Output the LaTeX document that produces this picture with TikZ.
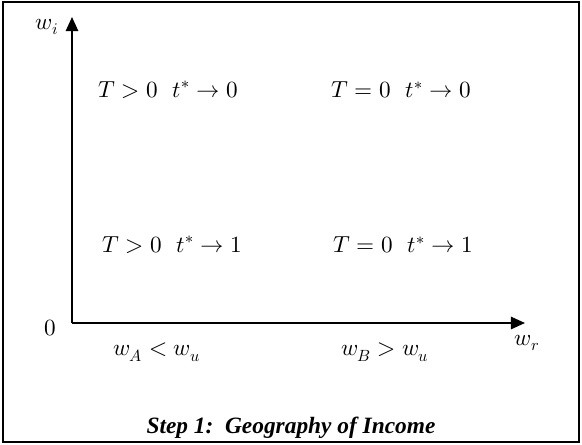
\documentclass[tikz,border=0pt]{standalone}
\usepackage{amsmath}
\usepackage{fontspec}
\usepackage{unicode-math}
\setmathfont{Latin Modern Math}
\newfontfamily\capfont{Liberation Serif}
\usetikzlibrary{arrows.meta}
\tikzset{
	axis/.style={line width=1.1pt,-{Triangle[length=8pt,width=7pt]}},
	region/.style={font=\fontsize{13.2}{16}\selectfont},
}
\begin{document}
\begin{tikzpicture}
			\useasboundingbox (-1.44,-2.42) rectangle (10.2,6.46);
			% the frame
			\draw[line width=0.9pt] (-1.38,-2.38) rectangle (10.14,6.42);
			% axes
			\coordinate (O) at (0,0);
			\coordinate (ytip) at (0,6.12);
			\coordinate (xtip) at (9.06,0);
			\draw[axis] (O) -- (ytip);
			\draw[axis] (O) -- (xtip);
			\node[region] (wi) at (-0.5,5.92) {$w_i$};
			\node[region] (zero) at (-0.44,-0.1) {$0$};
			\node[region] (wr) at (9.1,-0.4) {$w_r$};
			% the four regions
			\node[region] (topleft) at (1.92,4.66) {$T>0\ \ t^*\to 0$};
			\node[region] (topright) at (6.58,4.66) {$T=0\ \ t^*\to 0$};
			\node[region] (botleft) at (2.0,1.56) {$T>0\ \ t^*\to 1$};
			\node[region] (botright) at (6.62,1.56) {$T=0\ \ t^*\to 1$};
			% below the axis
			\node[region] (wA) at (1.7,-0.58) {$w_A<w_u$};
			\node[region] (wB) at (6.26,-0.58) {$w_B>w_u$};
			\node[font=\capfont\fontsize{13.3}{16}\selectfont\bfseries\itshape] (caption) at (4.38,-2.1) {Step 1:\ \ Geography of Income};
		\end{tikzpicture}
\end{document}
